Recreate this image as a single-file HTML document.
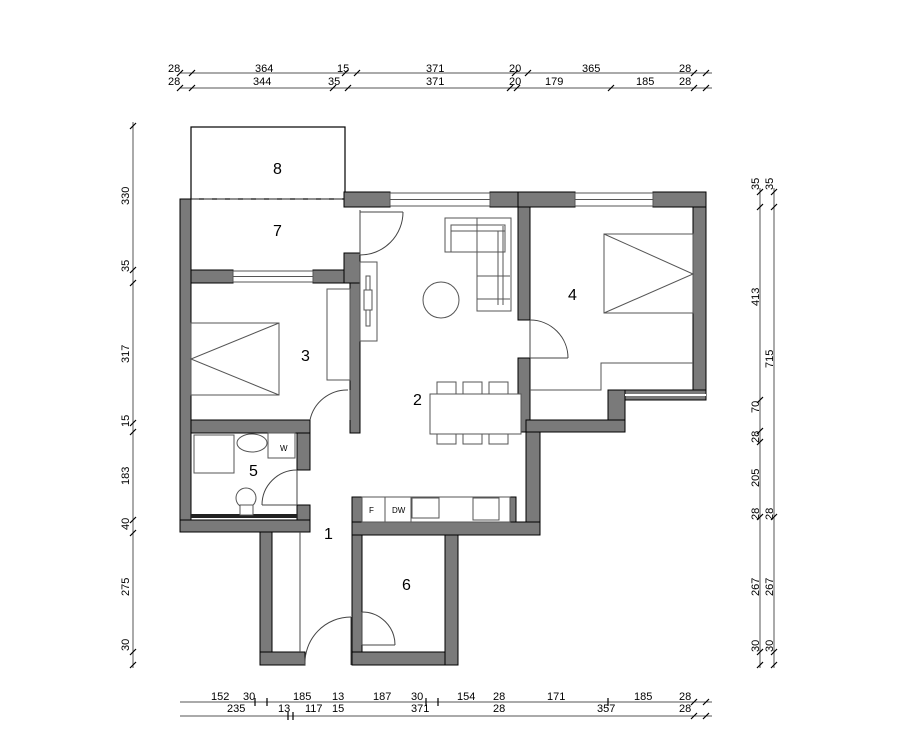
<!DOCTYPE html>
<html><head><meta charset="utf-8"><style>
html,body{margin:0;padding:0;background:#fff;}
svg{display:block;}
text{font-family:"Liberation Sans",sans-serif;fill:#000;}
.d{font-size:11px;}
.r{font-size:16px;}
</style></head><body>
<svg width="900" height="740" viewBox="0 0 900 740" xmlns="http://www.w3.org/2000/svg">
<g stroke="#555" stroke-width="1" fill="none">
<!-- top dims -->
<line x1="180" y1="73" x2="712" y2="73"/>
<line x1="180" y1="88" x2="712" y2="88"/>
<!-- left dim -->
<line x1="133" y1="122" x2="133" y2="668"/>
<!-- right dims -->
<line x1="760" y1="188" x2="760" y2="668"/>
<line x1="774" y1="188" x2="774" y2="668"/>
<!-- bottom dims -->
<line x1="180" y1="702" x2="712" y2="702"/>
<line x1="180" y1="716" x2="712" y2="716"/>
</g>
<g stroke="#000" stroke-width="1.2">
<!-- top ticks -->
<g id="tt">
<line x1="177" y1="76" x2="183" y2="70"/><line x1="189" y1="76" x2="195" y2="70"/>
<line x1="342" y1="76" x2="348" y2="70"/><line x1="354" y1="76" x2="360" y2="70"/>
<line x1="512" y1="76" x2="518" y2="70"/><line x1="525" y1="76" x2="531" y2="70"/>
<line x1="691" y1="76" x2="697" y2="70"/><line x1="703" y1="76" x2="709" y2="70"/>
</g>
<line x1="177" y1="91" x2="183" y2="85"/><line x1="189" y1="91" x2="195" y2="85"/>
<line x1="330" y1="91" x2="336" y2="85"/><line x1="345" y1="91" x2="351" y2="85"/>
<line x1="507" y1="91" x2="513" y2="85"/><line x1="514" y1="91" x2="520" y2="85"/>
<line x1="608" y1="91" x2="614" y2="85"/>
<line x1="691" y1="91" x2="697" y2="85"/><line x1="703" y1="91" x2="709" y2="85"/>
<!-- left ticks -->
<line x1="130" y1="129" x2="136" y2="123"/><line x1="130" y1="273" x2="136" y2="267"/>
<line x1="130" y1="286" x2="136" y2="280"/><line x1="130" y1="426" x2="136" y2="420"/>
<line x1="130" y1="435" x2="136" y2="429"/><line x1="130" y1="523" x2="136" y2="517"/>
<line x1="130" y1="536" x2="136" y2="530"/><line x1="130" y1="655" x2="136" y2="649"/>
<line x1="130" y1="668" x2="136" y2="662"/>
<!-- right ticks -->
<line x1="757" y1="210" x2="763" y2="204"/><line x1="771" y1="210" x2="777" y2="204"/>
<line x1="757" y1="195" x2="763" y2="189"/><line x1="771" y1="195" x2="777" y2="189"/>
<line x1="757" y1="403" x2="763" y2="397"/><line x1="757" y1="434" x2="763" y2="428"/>
<line x1="757" y1="445" x2="763" y2="439"/><line x1="757" y1="520" x2="763" y2="514"/>
<line x1="771" y1="520" x2="777" y2="514"/><line x1="757" y1="655" x2="763" y2="649"/>
<line x1="771" y1="655" x2="777" y2="649"/><line x1="757" y1="668" x2="763" y2="662"/>
<line x1="771" y1="668" x2="777" y2="662"/>
<!-- bottom ticks -->
<line x1="255" y1="698" x2="255" y2="706"/><line x1="267" y1="698" x2="267" y2="706"/>
<line x1="426" y1="698" x2="426" y2="706"/><line x1="438" y1="698" x2="438" y2="706"/>
<line x1="608" y1="698" x2="608" y2="706"/>
<line x1="691" y1="705" x2="697" y2="699"/><line x1="703" y1="705" x2="709" y2="699"/>
<line x1="288" y1="712" x2="288" y2="720"/><line x1="293" y1="712" x2="293" y2="720"/>
<line x1="691" y1="719" x2="697" y2="713"/><line x1="703" y1="719" x2="709" y2="713"/>
</g>
<!-- dim text -->
<g class="d">
<text x="168" y="72">28</text><text x="255" y="72">364</text><text x="337" y="72">15</text>
<text x="426" y="72">371</text><text x="509" y="72">20</text><text x="582" y="72">365</text><text x="679" y="72">28</text>
<text x="168" y="85">28</text><text x="253" y="85">344</text><text x="328" y="85">35</text>
<text x="426" y="85">371</text><text x="509" y="85">20</text><text x="545" y="85">179</text><text x="636" y="85">185</text><text x="679" y="85">28</text>
<text x="211" y="700">152</text><text x="243" y="700">30</text><text x="293" y="700">185</text><text x="332" y="700">13</text>
<text x="373" y="700">187</text><text x="411" y="700">30</text><text x="457" y="700">154</text><text x="493" y="700">28</text>
<text x="547" y="700">171</text><text x="634" y="700">185</text><text x="679" y="700">28</text>
<text x="227" y="712">235</text><text x="278" y="712">13</text><text x="305" y="712">117</text><text x="332" y="712">15</text>
<text x="411" y="712">371</text><text x="493" y="712">28</text><text x="597" y="712">357</text><text x="679" y="712">28</text>
</g>
<g class="d">
<text transform="translate(129,205) rotate(-90)">330</text>
<text transform="translate(129,272) rotate(-90)">35</text>
<text transform="translate(129,363) rotate(-90)">317</text>
<text transform="translate(129,427) rotate(-90)">15</text>
<text transform="translate(129,485) rotate(-90)">183</text>
<text transform="translate(129,530) rotate(-90)">40</text>
<text transform="translate(129,596) rotate(-90)">275</text>
<text transform="translate(129,651) rotate(-90)">30</text>
<text transform="translate(759,190) rotate(-90)">35</text>
<text transform="translate(773,190) rotate(-90)">35</text>
<text transform="translate(759,306) rotate(-90)">413</text>
<text transform="translate(773,368) rotate(-90)">715</text>
<text transform="translate(759,413) rotate(-90)">70</text>
<text transform="translate(759,443) rotate(-90)">28</text>
<text transform="translate(759,487) rotate(-90)">205</text>
<text transform="translate(759,520) rotate(-90)">28</text>
<text transform="translate(773,520) rotate(-90)">28</text>
<text transform="translate(759,596) rotate(-90)">267</text>
<text transform="translate(773,596) rotate(-90)">267</text>
<text transform="translate(759,652) rotate(-90)">30</text>
<text transform="translate(773,652) rotate(-90)">30</text>
</g>

<!-- balcony -->
<rect x="191" y="127" width="154" height="72" fill="none" stroke="#000" stroke-width="1.2"/>
<line x1="191" y1="199" x2="345" y2="199" stroke="#555" stroke-dasharray="8,5"/>

<!-- walls -->
<g fill="#7a7a7a" stroke="#000" stroke-width="1">
<rect x="180" y="199" width="11" height="333"/>
<rect x="344" y="192" width="46" height="15"/>
<rect x="490" y="192" width="28" height="15"/>
<rect x="518" y="192" width="57" height="15"/>
<rect x="653" y="192" width="53" height="15"/>
<rect x="693" y="207" width="13" height="193"/>
<rect x="191" y="270" width="42" height="13"/>
<rect x="313" y="270" width="47" height="13"/>
<rect x="344" y="253" width="16" height="30"/>
<rect x="350" y="283" width="10" height="150"/>
<rect x="518" y="207" width="12" height="113"/>
<rect x="518" y="358" width="12" height="74"/>
<rect x="608" y="390" width="17" height="42"/>
<rect x="526" y="420" width="99" height="12"/>
<rect x="526" y="432" width="14" height="103"/>
<rect x="191" y="420" width="119" height="13"/>
<rect x="297" y="433" width="13" height="37"/>
<rect x="297" y="505" width="13" height="27"/>
<rect x="180" y="520" width="130" height="12"/>
<rect x="260" y="532" width="12" height="133"/>
<rect x="260" y="652" width="45" height="13"/>
<rect x="352" y="497" width="10" height="168"/>
<rect x="352" y="522" width="188" height="13"/>
<rect x="352" y="652" width="106" height="13"/>
<rect x="445" y="535" width="13" height="130"/>
<rect x="510" y="497" width="6" height="25"/>
</g>
<!-- room4 bottom thin wall -->
<rect x="625" y="390" width="81" height="10" fill="#7a7a7a" stroke="#000"/>
<line x1="625" y1="395" x2="706" y2="395" stroke="#fff" stroke-width="2"/>
<!-- windows -->
<g fill="#fff" stroke="#555" stroke-width="1">
<rect x="390" y="193" width="100" height="13"/><line x1="390" y1="199.5" x2="490" y2="199.5"/>
<rect x="575" y="193" width="78" height="13"/><line x1="575" y1="199.5" x2="653" y2="199.5"/>
<rect x="233" y="271" width="80" height="11"/><line x1="233" y1="276.5" x2="313" y2="276.5"/>
</g>
<!-- bathroom bottom line -->
<rect x="191" y="514" width="106" height="4" fill="#222"/>

<!-- doors -->
<g fill="none" stroke="#444" stroke-width="1">
<line x1="360" y1="210" x2="360" y2="255"/><path d="M360 255 A43 43 0 0 0 403 212"/><line x1="360" y1="212" x2="403" y2="212"/>
<line x1="530" y1="320" x2="530" y2="358"/><path d="M530 320 A38 38 0 0 1 568 358"/><line x1="530" y1="358" x2="568" y2="358"/>
<line x1="350" y1="390" x2="350" y2="420"/><path d="M310 420 A38 38 0 0 1 348 390"/>
<line x1="297" y1="470" x2="297" y2="505"/><path d="M297 470 A35 35 0 0 0 262 505"/><line x1="262" y1="505" x2="297" y2="505"/>
<line x1="351" y1="617" x2="351" y2="665"/><path d="M305 665 A46 46 0 0 1 351 617"/>
<line x1="362" y1="612" x2="362" y2="645"/><path d="M362 612 A33 33 0 0 1 395 645"/><line x1="362" y1="645" x2="395" y2="645"/>
<line x1="300" y1="532" x2="300" y2="652"/>
</g>

<!-- furniture -->
<g fill="#fff" stroke="#555" stroke-width="1">
<!-- sofa -->
<rect x="445" y="218" width="66" height="34"/>
<rect x="477" y="218" width="34" height="93"/>
<rect x="451" y="225" width="54" height="27" fill="none"/>
<line x1="451" y1="231" x2="505" y2="231"/><line x1="498" y1="231" x2="498" y2="305"/><line x1="503" y1="226" x2="503" y2="305"/>
<line x1="477" y1="276" x2="510" y2="276"/><line x1="477" y1="299" x2="510" y2="299"/>
<circle cx="441" cy="300" r="18"/>
<!-- tv -->
<rect x="360" y="262" width="17" height="79"/>
<rect x="366" y="276" width="4" height="50"/>
<rect x="364" y="290" width="8" height="20"/>
<!-- wardrobe room3 -->
<rect x="327" y="289" width="23" height="91"/>
<!-- bed room3 -->
<rect x="191" y="323" width="88" height="72"/>
<polyline points="279,323 191,359 279,395" fill="none"/>
<!-- bed room4 -->
<rect x="604" y="234" width="89" height="79"/>
<polyline points="604,234 693,274 604,313" fill="none"/>
<polyline points="530,390 601,390 601,363 693,363" fill="none"/>
<!-- dining -->
<rect x="437" y="382" width="19" height="12"/><rect x="463" y="382" width="19" height="12"/><rect x="489" y="382" width="19" height="12"/>
<rect x="437" y="432" width="19" height="12"/><rect x="463" y="432" width="19" height="12"/><rect x="489" y="432" width="19" height="12"/>
<rect x="430" y="394" width="91" height="40"/>
<!-- bathroom -->
<rect x="194" y="435" width="40" height="38"/>
<ellipse cx="252" cy="443" rx="15" ry="9"/>
<rect x="268" y="433" width="27" height="25"/>
<ellipse cx="246" cy="498" rx="10" ry="10"/>
<rect x="240" y="505" width="13" height="10"/>
<!-- kitchen -->
<rect x="362" y="497" width="148" height="25"/>
<line x1="385" y1="497" x2="385" y2="522"/><line x1="411" y1="497" x2="411" y2="522"/>
<rect x="412" y="498" width="27" height="20"/>
<rect x="473" y="498" width="26" height="22"/>
</g>
<text x="369" y="513" style="font-size:8px">F</text>
<text x="392" y="513" style="font-size:8px">DW</text>
<text x="280" y="451" style="font-size:8px">W</text>

<!-- room labels -->
<g class="r">
<text x="273" y="174">8</text>
<text x="273" y="236">7</text>
<text x="301" y="361">3</text>
<text x="413" y="405">2</text>
<text x="568" y="300">4</text>
<text x="249" y="476">5</text>
<text x="324" y="539">1</text>
<text x="402" y="590">6</text>
</g>
</svg>
</body></html>
